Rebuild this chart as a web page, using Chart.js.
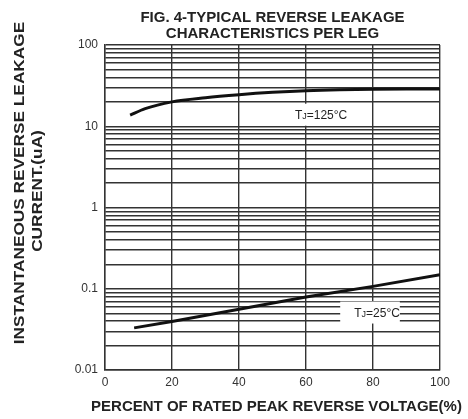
<!DOCTYPE html>
<html>
<head>
<meta charset="utf-8">
<script src="https://cdn.jsdelivr.net/npm/chart.js@4.4.1/dist/chart.umd.min.js"></script>
<style>
    html, body { margin: 0; padding: 0; background: #fff; }
    #wrap { width: 468px; height: 419px; }
</style>
</head>
<body>
<div id="wrap"><canvas id="leakage" width="468" height="419"></canvas></div>
<script>
// values
const volt125 = [7.5, 12, 20, 30, 40, 50, 60, 70, 80, 90, 100];
const leak125 = [13.7, 16.5, 20, 22.5, 24.5, 26.2, 27.5, 28.3, 28.7, 28.8, 28.8];
const volt25 = [8.7, 20, 40, 60, 80, 100];
const leak25 = [0.033, 0.0395, 0.056, 0.079, 0.107, 0.149];
const xTicks = [0, 20, 40, 60, 80, 100];
const yDecades = [0.01, 0.1, 1, 10, 100];
const tempNames = ['125°C', '25°C'];
const xTitle = 'PERCENT OF RATED PEAK REVERSE VOLTAGE(%)';
const yTitle = ['INSTANTANEOUS REVERSE LEAKAGE', 'CURRENT.(uA)'];

// where the TJ tags sit (data coords) and their white box
const tagSpots = [
    {x: 64.5, y: 13.9, padL: 6, padR: 6},
    {x: 81.2, y: 0.051, padL: 14, padR: 0}
];

const ink = '#222';
const gridInk = '#333';
const fontFam = "'Liberation Sans', Arial, sans-serif";
Chart.defaults.font.family = fontFam;
Chart.defaults.color = ink;

function toPoints(xs, ys) {
    return xs.map((v, i) => ({x: v, y: ys[i]}));
}

// small "TJ=..." labels with white backing
const tagPlugin = {
    id: 'tempTags',
    afterDatasetsDraw(chart) {
        const {ctx, scales: {x, y}} = chart;
        ctx.save();
        tagSpots.forEach((spot, i) => {
            const cx = x.getPixelForValue(spot.x);
            const cy = y.getPixelForValue(spot.y);
            const big = '12px ' + fontFam;
            const small = '9px ' + fontFam;
            const rest = '=' + tempNames[i];
            ctx.font = big;
            const wT = ctx.measureText('T').width;
            const wR = ctx.measureText(rest).width;
            ctx.font = small;
            const wJ = ctx.measureText('J').width;
            const total = wT + wJ + wR;
            const left = cx - total / 2;

            ctx.fillStyle = '#fff';
            ctx.fillRect(left - spot.padL, cy - 11, total + spot.padL + spot.padR, 22);

            ctx.fillStyle = ink;
            ctx.textBaseline = 'alphabetic';
            ctx.textAlign = 'left';
            const base = cy + 4.5;
            ctx.font = big;
            ctx.fillText('T', left, base);
            ctx.font = small;
            ctx.fillText('J', left + wT, base);
            ctx.font = big;
            ctx.fillText(rest, left + wT + wJ, base);
        });
        ctx.restore();
    }
};

// axis titles sit a bit off-centre in the original, so place them by hand
const axisTitlePlugin = {
    id: 'axisTitles',
    afterDraw(chart) {
        const {ctx, chartArea} = chart;
        ctx.save();
        ctx.fillStyle = ink;
        ctx.textAlign = 'center';
        ctx.textBaseline = 'middle';

        ctx.font = 'bold 15px ' + fontFam;
        ctx.fillText(xTitle, (chartArea.left + chartArea.right) / 2 + 4, 407);

        // y title: rotated, a little stretched along the text
        ctx.font = 'bold 15px ' + fontFam;
        ctx.translate(20, 183);
        ctx.rotate(-Math.PI / 2);
        ctx.scale(1.15, 1);
        ctx.fillText(yTitle[0], 0, 0);
        ctx.fillText(yTitle[1], -8 / 1.15, 18);
        ctx.restore();
    }
};

new Chart(document.getElementById('leakage'), {
    type: 'scatter',
    data: {
        datasets: [
            {
                label: 'TJ=' + tempNames[0],
                data: toPoints(volt125, leak125),
                showLine: true,
                borderColor: '#111',
                borderWidth: 3,
                pointRadius: 0,
                cubicInterpolationMode: 'monotone'
            },
            {
                label: 'TJ=' + tempNames[1],
                data: toPoints(volt25, leak25),
                showLine: true,
                borderColor: '#111',
                borderWidth: 3,
                pointRadius: 0,
                tension: 0
            }
        ]
    },
    options: {
        responsive: false,
        animation: false,
        devicePixelRatio: 1,
        layout: {padding: {left: 0, right: 28, top: 0, bottom: 0}},
        plugins: {
            legend: {display: false},
            tooltip: {enabled: false},
            title: {
                display: true,
                fullSize: false,
                text: ['FIG. 4-TYPICAL REVERSE LEAKAGE', 'CHARACTERISTICS PER LEG'],
                color: ink,
                font: {size: 15, weight: 'bold', lineHeight: 1.07},
                padding: {top: 10, bottom: 3}
            }
        },
        scales: {
            x: {
                type: 'linear',
                min: 0,
                max: 100,
                afterBuildTicks: (scale) => {
                    scale.ticks = xTicks.map(v => ({value: v}));
                },
                afterFit: (scale) => { scale.height = 49; },
                ticks: {font: {size: 12}, color: '#333', padding: 5, maxRotation: 0},
                grid: {color: gridInk, lineWidth: 1.4, drawTicks: false},
                border: {color: gridInk, width: 1.4}
            },
            y: {
                type: 'logarithmic',
                min: 0.01,
                max: 100,
                afterBuildTicks: (scale) => {
                    let ticks = [];
                    yDecades.forEach((d, i) => {
                        if (i === yDecades.length - 1) {
                            ticks.push({value: d});
                            return;
                        }
                        for (let m = 1; m < 10; m++) {
                            ticks.push({value: +(d * m).toPrecision(3)});
                        }
                    });
                    scale.ticks = ticks;
                },
                afterFit: (scale) => { scale.width = 105; },
                ticks: {
                    font: {size: 12},
                    color: '#333',
                    padding: 7,
                    autoSkip: false,
                    callback: (value) => yDecades.includes(value) ? String(value) : ''
                },
                grid: {color: gridInk, lineWidth: 1.4, drawTicks: false},
                border: {color: gridInk, width: 1.4}
            }
        }
    },
    plugins: [tagPlugin, axisTitlePlugin]
});
</script>
</body>
</html>
